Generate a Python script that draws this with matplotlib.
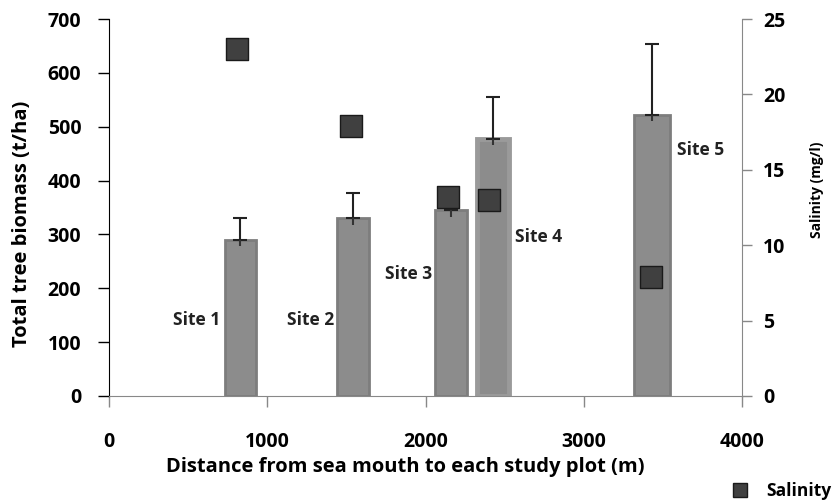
import matplotlib.pyplot as plt
from matplotlib.lines import Line2D

# data
sites = ["Site 1", "Site 2", "Site 3", "Site 4", "Site 5"]
distance = [830, 1540, 2160, 2425, 3430]          # m from sea mouth
biomass = [290, 330, 345, 478, 522]               # t/ha
biomass_err = [40, 47, 37, 78, 131]
sal_distance = [810, 1530, 2142, 2400, 3425]
salinity = [23.0, 17.9, 13.2, 13.0, 7.9]          # mg/l

bar_width = [200, 200, 200, 200, 230]
label_x = [404, 1125, 1744, 2565, 3589]
label_y = [141, 141, 226, 295, 457]

plt.rcParams['font.family'] = ['Open Sans', 'DejaVu Sans']
plt.rcParams['font.weight'] = 'bold'

fig = plt.figure(figsize=(8.36, 5.04), dpi=100)
ax = fig.add_axes([0.1304, 0.2143, 0.7572, 0.748])

for i in range(len(sites)):
    lw = 3.5 if i == 3 else 2
    ax.bar(distance[i], biomass[i], width=bar_width[i], color="#8c8c8c",
           edgecolor="#7d7d7d" if i != 3 else "#9a9a9a", linewidth=lw, zorder=2)
    ax.errorbar(distance[i], biomass[i], yerr=[[0], [biomass_err[i]]],
                fmt="none", ecolor="#222222", elinewidth=1.5, capsize=5,
                capthick=1.5, zorder=3)
    ax.vlines(distance[i], biomass[i] - 12, biomass[i], color="#333333",
              linewidth=1.5, zorder=3)
    ax.text(label_x[i], label_y[i], sites[i], fontsize=12.5, fontweight="bold",
            color="#222222", ha="left", va="center")

ax.set_xlim(0, 4000)
ax.set_ylim(0, 700)
ax.set_xticks([0, 1000, 2000, 3000, 4000])
ax.set_yticks(range(0, 701, 100))
ax.tick_params(axis="y", direction="out", length=8, width=1, labelsize=14, pad=12)
ax.tick_params(axis="x", direction="out", length=8, width=1, colors="#888888",
               labelcolor="black", labelsize=14, pad=18)
ax.spines["top"].set_visible(False)
ax.spines["right"].set_visible(False)
ax.spines["bottom"].set_color("#888888")
ax.set_xlabel("Distance from sea mouth to each study plot (m)", fontsize=14.5,
              fontweight="bold")
ax.xaxis.set_label_coords(0.468, -0.163)
ax.set_ylabel("Total tree biomass (t/ha)", fontsize=14.5, fontweight="bold")
ax.yaxis.set_label_coords(-0.1216, 0.456)

ax2 = ax.twinx()
ax2.scatter(sal_distance, salinity, marker="s", s=240, color="#404040",
            edgecolor="#1a1a1a", linewidth=1, zorder=4)
ax2.set_ylim(0, 25)
ax2.set_yticks(range(0, 26, 5))
ax2.tick_params(axis="y", direction="out", length=7, width=1, colors="#888888",
                labelcolor="black", labelsize=14, pad=8)
for s in ["top", "left", "bottom"]:
    ax2.spines[s].set_visible(False)
ax2.spines["right"].set_color("#888888")
ax2.set_ylabel("Salinity (mg/l)", fontsize=10, fontweight="bold")
ax2.yaxis.set_label_coords(1.1074, 0.546)

handle = Line2D([], [], marker="s", linestyle="none", markersize=10,
                markerfacecolor="#404040", markeredgecolor="#1a1a1a")
fig.legend([handle], ["Salinity"], loc="center left", bbox_to_anchor=(0.862, 0.026),
           frameon=False, fontsize=12.5, handletextpad=0.9, borderpad=0,
           handlelength=1.2)

fig.savefig("out.png", dpi=100)
